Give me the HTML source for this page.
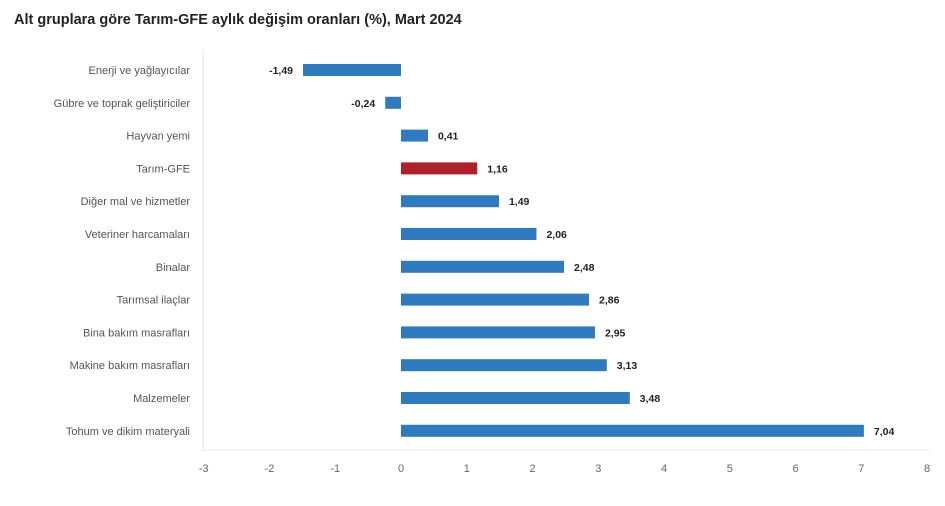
<!DOCTYPE html>
<html><head><meta charset="utf-8"><style>
body{margin:0;background:#fff;font-family:"Liberation Sans",sans-serif;}
svg{display:block}
</style></head><body>
<svg width="945" height="506">
<text x="14" y="24" font-size="14.5" font-weight="bold" fill="#222">Alt gruplara göre Tarım-GFE aylık değişim oranları (%), Mart 2024</text>
<g id="plot"></g>
</svg>
<script>
const categories=["Enerji  ve yağlayıcılar","Gübre ve toprak geliştiriciler","Hayvan yemi","Tarım-GFE","Diğer mal ve hizmetler","Veteriner harcamaları","Binalar","Tarımsal ilaçlar","Bina bakım masrafları","Makine bakım masrafları","Malzemeler","Tohum ve dikim materyali"];
const values=[-1.49,-0.24,0.41,1.16,1.49,2.06,2.48,2.86,2.95,3.13,3.48,7.04];
const valueLabels=["-1,49","-0,24","0,41","1,16","1,49","2,06","2,48","2,86","2,95","3,13","3,48","7,04"];
const ticks=[-3,-2,-1,0,1,2,3,4,5,6,7,8];
const highlight="Tarım-GFE";
const NS="http://www.w3.org/2000/svg";
const g=document.getElementById('plot');
const x=v=>401+(v)*65.75;
const y=i=>70+i*32.8;
function mk(t,a){const e=document.createElementNS(NS,t);for(const k in a)e.setAttribute(k,a[k]);g.appendChild(e);return e;}
let ax=mk('line',{x1:203,y1:50,x2:203,y2:450,stroke:'#e2e2e2'});


let bx=mk('line',{x1:203,y1:450,x2:930,y2:450,stroke:'#e8e8e8'});


ticks.forEach(t=>{const e=mk('text',{x:x(t),y:472,'font-size':11,fill:'#666','text-anchor':'middle'});e.textContent=t;

});
categories.forEach((c,i)=>{
const l=mk('text',{x:190,y:y(i)+4,'font-size':11,fill:'#555','text-anchor':'end'});l.textContent=c;


const v=values[i];const x0=Math.min(x(0),x(v)),w=Math.abs(x(v)-x(0));
const r=mk('rect',{x:x0,y:y(i)-6,width:w,height:12,fill:c===highlight?'#b0202a':'#2e7bbf'});


const t=mk('text',{x:v<0?x(v)-10:x(v)+10,y:y(i)+4,'font-size':10.5,'font-weight':'bold',fill:'#222','text-anchor':v<0?'end':'start'});t.textContent=valueLabels[i];


});
</script>
</body></html>
